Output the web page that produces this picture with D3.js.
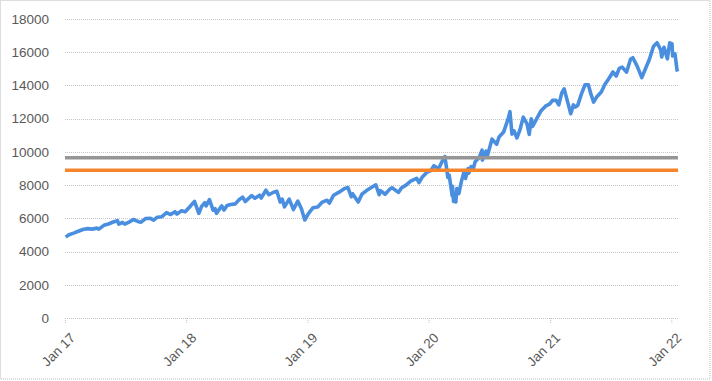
<!DOCTYPE html>
<html>
<head>
<meta charset="utf-8">
<script src="https://cdn.jsdelivr.net/npm/d3@7"></script>
<style>
  body { margin: 0; background: #fff; }
  svg { display: block; }
</style>
</head>
<body>
<div id="chart"></div>
<script>
// Fechas y valores de la serie (lectura aproximada del gráfico)
const dates = [
  "2017-01-03","2017-01-13","2017-01-27","2017-02-10","2017-02-24","2017-03-10","2017-03-24","2017-04-07","2017-04-13","2017-04-28",
  "2017-05-12","2017-05-26","2017-06-08","2017-06-12","2017-06-23","2017-06-30","2017-07-14","2017-07-26","2017-08-10","2017-08-18",
  "2017-09-01","2017-09-15","2017-09-25","2017-10-06","2017-10-20","2017-11-03","2017-11-15","2017-11-28","2017-12-04","2017-12-18",
  "2017-12-29","2018-01-12","2018-01-26","2018-02-08","2018-02-16","2018-02-26","2018-03-02","2018-03-12","2018-03-23","2018-03-29",
  "2018-04-02","2018-04-18","2018-04-25","2018-05-04","2018-05-15","2018-05-29","2018-06-08","2018-06-20","2018-06-28","2018-07-17",
  "2018-07-27","2018-08-10","2018-08-15","2018-08-29","2018-09-07","2018-09-21","2018-10-01","2018-10-11","2018-10-17","2018-10-24",
  "2018-11-07","2018-11-20","2018-12-03","2018-12-14","2018-12-24","2019-01-04","2019-01-18","2019-02-01","2019-02-15","2019-03-01",
  "2019-03-08","2019-03-21","2019-04-05","2019-04-23","2019-05-03","2019-05-13","2019-05-17","2019-06-03","2019-06-14","2019-06-28",
  "2019-07-26","2019-08-05","2019-08-09","2019-08-23","2019-09-06","2019-09-13","2019-10-02","2019-10-11","2019-10-25","2019-11-08",
  "2019-11-26","2019-12-03","2019-12-13","2019-12-27","2020-01-08","2020-01-17","2020-01-31","2020-02-10","2020-02-19","2020-02-28",
  "2020-03-03","2020-03-12","2020-03-13","2020-03-16","2020-03-20","2020-03-23","2020-03-26","2020-04-01","2020-04-09","2020-04-17",
  "2020-04-21","2020-04-29","2020-05-01","2020-05-08","2020-05-14","2020-05-20","2020-06-02","2020-06-10","2020-06-11","2020-06-22",
  "2020-06-26","2020-07-10","2020-07-24","2020-07-31","2020-08-14","2020-08-28","2020-09-02","2020-09-08","2020-09-14","2020-09-23",
  "2020-10-02","2020-10-12","2020-10-23","2020-10-30","2020-11-05","2020-11-09","2020-11-20","2020-12-04","2020-12-18","2020-12-31",
  "2021-01-08","2021-01-19","2021-01-27","2021-02-05","2021-02-12","2021-02-25","2021-03-04","2021-03-12","2021-03-18","2021-03-25",
  "2021-04-05","2021-04-16","2021-04-26","2021-05-04","2021-05-12","2021-05-21","2021-06-04","2021-06-15","2021-06-25","2021-07-09",
  "2021-07-19","2021-07-28","2021-08-06","2021-08-19","2021-08-31","2021-09-07","2021-09-20","2021-10-04","2021-10-14","2021-10-27",
  "2021-11-08","2021-11-19","2021-11-30","2021-12-03","2021-12-10","2021-12-20","2021-12-27","2022-01-03","2022-01-05","2022-01-12",
  "2022-01-18","2022-01-20"
];
const values = [
  4870,5010,5110,5220,5330,5380,5350,5410,5350,5580,
  5660,5780,5860,5650,5760,5650,5790,5930,5800,5770,
  5990,6000,5890,6070,6100,6340,6230,6400,6260,6460,
  6400,6700,7020,6300,6700,6940,6750,7130,6490,6580,
  6300,6750,6500,6770,6830,6870,7100,7280,7010,7370,
  7210,7390,7220,7690,7420,7570,7630,6980,7160,6690,
  7160,6530,7040,6580,5900,6280,6640,6680,6980,7090,
  6920,7390,7560,7800,7850,7300,7480,6980,7450,7670,
  8020,7420,7670,7450,7760,7840,7560,7830,8000,8240,
  8400,8150,8490,8780,8880,9170,8990,9400,9720,8460,
  8600,7360,7930,7020,7020,6990,7800,7490,8240,8830,
  8400,9000,8720,9120,8930,9410,9680,10100,9500,10050,
  9760,10770,10460,10900,11200,12020,12420,11070,11270,10840,
  11320,12090,11700,11050,11990,11530,11940,12460,12750,12890,
  13100,13100,12830,13550,13800,12830,12300,12830,12700,12800,
  13480,14040,14040,13460,13000,13300,13610,14070,14360,14810,
  14570,15030,15100,14800,15580,15670,15160,14470,14960,15580,
  16340,16570,16140,15710,16300,15600,16570,16500,15770,15900,
  14930,14840
];
// Líneas horizontales de referencia
const grayLevel = 9650;
const orangeLevel = 8890;
// Ejes
const yTicks = [0, 2000, 4000, 6000, 8000, 10000, 12000, 14000, 16000, 18000];
const xTickDates = ["2017-01-01","2018-01-01","2019-01-01","2020-01-01","2021-01-01","2022-01-01"];
const xTickLabels = ["Jan 17","Jan 18","Jan 19","Jan 20","Jan 21","Jan 22"];

const W = 712, H = 381;
const margin = { top: 19, right: 34, bottom: 63, left: 65 };
const width = W - margin.left - margin.right;
const height = H - margin.top - margin.bottom;

const parse = d3.timeParse("%Y-%m-%d");
const data = dates.map((d, i) => ({ date: parse(d), value: values[i] }));

const svg = d3.select("#chart").append("svg")
    .attr("width", W)
    .attr("height", H);

// Borde punteado del gráfico
svg.append("rect")
    .attr("x", 0.5).attr("y", 0.5)
    .attr("width", W - 2.5).attr("height", H - 2.5)
    .attr("fill", "none")
    .attr("stroke", "#bdbdbd")
    .attr("stroke-dasharray", "1,1");

const g = svg.append("g")
    .attr("transform", `translate(${margin.left}, ${margin.top})`);

const x = d3.scaleTime()
    .domain([parse("2017-01-01"), parse("2022-01-21")])
    .range([0, width]);

const y = d3.scaleLinear()
    .domain([0, 18000])
    .range([height, 0]);

// Líneas de cuadrícula
g.append("g")
    .selectAll("line")
    .data(yTicks)
    .join("line")
    .attr("x1", 0)
    .attr("x2", width)
    .attr("y1", d => Math.round(y(d)) + 0.5)
    .attr("y2", d => Math.round(y(d)) + 0.5)
    .attr("stroke", "#c4c4c4")
    .attr("stroke-dasharray", "1,1");

// Eje Y
const yAxis = g.append("g")
    .call(d3.axisLeft(y).tickValues(yTicks).tickSize(0).tickPadding(16).tickFormat(d3.format("d")));
yAxis.select(".domain").remove();
yAxis.selectAll("text")
    .attr("fill", "#595959")
    .style("font-family", "Liberation Sans, Arial, sans-serif")
    .style("font-size", "13.5px");

// Eje X
const xAxis = g.append("g")
    .attr("transform", `translate(0, ${height})`)
    .call(d3.axisBottom(x)
        .tickValues(xTickDates.map(parse))
        .tickSize(5)
        .tickFormat((d, i) => xTickLabels[i]));
xAxis.select(".domain").remove();
xAxis.selectAll(".tick line")
    .attr("stroke", "#c4c4c4")
    .attr("stroke-dasharray", "1,1");
xAxis.selectAll("text")
    .attr("fill", "#595959")
    .style("font-family", "Liberation Sans, Arial, sans-serif")
    .style("font-size", "13.5px")
    .attr("text-anchor", "end")
    .attr("dx", "0.1em")
    .attr("dy", "0.2em")
    .attr("transform", "translate(2, 14) rotate(-45)");

// Serie principal
const line = d3.line()
    .x(d => x(d.date))
    .y(d => y(d.value));

g.append("path")
    .datum(data)
    .attr("fill", "none")
    .attr("stroke", "#4a8ee0")
    .attr("stroke-width", 3.6)
    .attr("stroke-linejoin", "round")
    .attr("d", line);

// Líneas de referencia
g.append("line")
    .attr("x1", 0).attr("x2", width)
    .attr("y1", y(grayLevel)).attr("y2", y(grayLevel))
    .attr("stroke", "#969696")
    .attr("stroke-width", 3.5);

g.append("line")
    .attr("x1", 0).attr("x2", width)
    .attr("y1", y(orangeLevel)).attr("y2", y(orangeLevel))
    .attr("stroke", "#f6842a")
    .attr("stroke-width", 3.5);
</script>
</body>
</html>
